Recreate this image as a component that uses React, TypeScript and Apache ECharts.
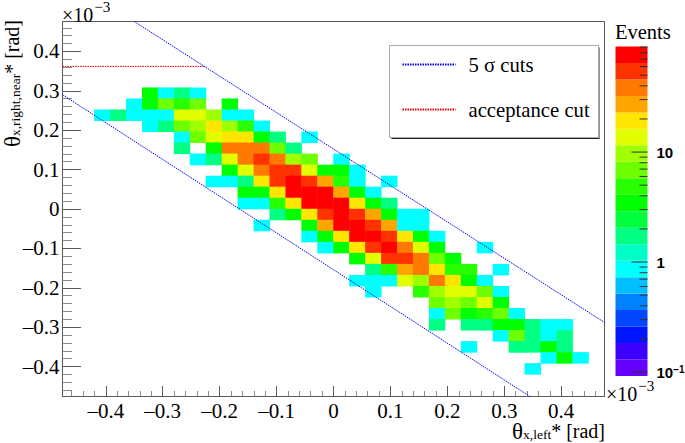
import React, { useEffect, useRef } from "react";
import * as echarts from "echarts";

const SERIF = "'Liberation Serif','Times New Roman',serif";
const SANS = "'Liberation Sans',Arial,sans-serif";

// Histogram binning: 34 x 34 bins of 0.028 (x 10^-3 rad)
const binEdgesMin = -0.476;
const binEdgesMax = 0.476;
const binCount = 34;
const binLabels = Array.from({ length: binCount }, (_, i) => String(i));

// Sparse rows of the histogram, from the top: the row number, the first filled bin, the counts
const rowIndex = [6, 7, 8, 9, 10, 11, 12, 13, 14, 15, 16, 17, 18, 19, 20, 21, 22, 23, 24, 25, 26, 27, 28, 29, 30, 31];
const rowFirstBin = [5, 4, 2, 5, 7, 7, 8, 10, 9, 11, 11, 13, 12, 15, 16, 18, 19, 18, 19, 23, 23, 23, 27, 25, 30, 29];
const rowCounts = [
  [3, 1, 2, 1],
  [1, 3, 7, 5, 7, 0, 3],
  [1, 2, 1, 1, 1, 14, 14, 10, 1, 1],
  [1, 2, 7, 10, 19, 10, 5, 1],
  [1, 7, 14, 19, 19, 3, 2, 0, 1],
  [2, 0, 3, 38, 38, 38, 7, 2],
  [1, 2, 14, 38, 54, 38, 10, 7, 0, 1],
  [3, 14, 38, 54, 54, 14, 3, 3, 1],
  [1, 1, 2, 19, 54, 75, 54, 27, 5, 1, 0, 1],
  [3, 3, 19, 75, 75, 75, 27, 3, 1],
  [1, 1, 5, 19, 75, 75, 75, 19, 3, 2],
  [2, 3, 19, 54, 75, 54, 27, 3, 1, 1],
  [1, 0, 0, 3, 27, 75, 75, 54, 27, 1, 1],
  [1, 3, 19, 75, 75, 54, 19, 3, 1],
  [1, 3, 19, 54, 75, 38, 14, 3, 0, 0, 1],
  [3, 14, 54, 54, 38, 7, 3],
  [2, 5, 27, 38, 19, 5, 5, 0, 1],
  [1, 1, 1, 14, 10, 38, 19, 3, 1],
  [1, 0, 0, 5, 10, 14, 14, 7, 1],
  [7, 10, 7, 14, 3],
  [1, 7, 3, 5, 7, 1],
  [2, 0, 2, 2, 3, 3, 2, 1, 1],
  [1, 7, 2, 1, 2],
  [1, 0, 0, 2, 2, 3, 2],
  [1, 3, 1],
  [1],
];

// Cut lines (x, y)
const upperCut = [[-0.35, 0.476], [0.476, -0.288]];
const lowerCut = [[-0.476, 0.29], [0.345, -0.476]];
const acceptanceCut = [[-0.476, 0.362], [-0.226, 0.362]];

// Ticks
const majorTicks = [-0.4, -0.3, -0.2, -0.1, 0, 0.1, 0.2, 0.3, 0.4];
const minorTicks = [
  -0.46, -0.44, -0.42, -0.38, -0.36, -0.34, -0.32, -0.28, -0.26, -0.24, -0.22, -0.18, -0.16, -0.14, -0.12,
  -0.08, -0.06, -0.04, -0.02, 0.02, 0.04, 0.06, 0.08, 0.12, 0.14, 0.16, 0.18, 0.22, 0.24, 0.26, 0.28,
  0.32, 0.34, 0.36, 0.38, 0.42, 0.44, 0.46,
];

// Colour scale: band edges (21) and colours (20, bottom to top)
const levelEdges = [
  0.092, 0.1299, 0.1835, 0.2591, 0.3658, 0.5164, 0.7291, 1.029, 1.454, 2.052, 2.897, 4.091, 5.775, 8.155, 11.51,
  16.26, 22.95, 32.41, 45.75, 64.6, 91.2,
];
const levelColors = [
  "#6400ff", "#3c00ff", "#0014ff", "#0046ff", "#0082ff", "#00beff", "#00ffff", "#00ffc8", "#00ff82", "#00ff3c",
  "#00ff00", "#28ff00", "#6eff00", "#a0ff00", "#e1ff00", "#ffe600", "#ffa500", "#ff7800", "#ff3200", "#ff0000",
];
const scaleDecades = [0.1, 1, 10];
const scaleMinorTicks = [0.2, 0.3, 0.4, 0.5, 0.6, 0.7, 0.8, 0.9, 2, 3, 4, 5, 6, 7, 8, 9, 20, 30, 40, 50, 60, 70, 80, 90];

const AXIS_COLOR = "#5a5a5a";

function labelText(v: number) {
  if (Math.abs(v) < 1e-9) return "0";
  return (v < 0 ? "\u2013" : "") + String(Math.abs(v));
}

function tickLine(api: any, value: number, length: number) {
  const p = api.coord([1, value]);
  return {
    type: "line",
    shape: { x1: p[0] - length, y1: p[1], x2: p[0], y2: p[1] },
    style: { stroke: "#333", lineWidth: 1 },
  };
}

export default function App() {
  const ref = useRef<HTMLDivElement>(null);
  useEffect(() => {
    document.body.style.margin = "0";
    const chart = echarts.init(ref.current!, null, { renderer: "svg" });
    const cells: number[][] = [];
    rowCounts.forEach((row, r) => {
      row.forEach((count, k) => {
        if (count > 0) cells.push([rowFirstBin[r] + k, binCount - 1 - rowIndex[r], count]);
      });
    });
    const baseAxis = { type: "value", min: binEdgesMin, max: binEdgesMax, gridIndex: 0, splitLine: { show: false } };
    const textRich = {
      h: { fontFamily: SERIF, fontSize: 23, color: "#000", lineHeight: 20, verticalAlign: "middle" },
      t: { fontFamily: SERIF, fontSize: 20, color: "#000", lineHeight: 20, verticalAlign: "middle" },
      s: { fontFamily: SERIF, fontSize: 13.5, color: "#000", lineHeight: 6, verticalAlign: "bottom" },
    };
    const powerRich = {
      t: { fontFamily: SERIF, fontSize: 20, color: "#000", lineHeight: 26, verticalAlign: "bottom", padding: [0, 1, 0, 0] },
      e: { fontFamily: SERIF, fontSize: 15, color: "#000", lineHeight: 15, verticalAlign: "top" },
    };
    chart.setOption({
      animation: false,
      backgroundColor: "#fff",
      grid: [
        { left: 62.5, top: 21.5, width: 542, height: 375, show: true, borderColor: AXIS_COLOR, borderWidth: 1, backgroundColor: "transparent", outerBoundsMode: "none" },
        { left: 615.5, top: 46.5, width: 32, height: 329.5, show: false, outerBoundsMode: "none" },
      ],
      xAxis: [
        {
          ...baseAxis,
          position: "bottom",
          axisLine: { show: true, onZero: false, lineStyle: { color: AXIS_COLOR } },
          axisTick: { show: true, inside: true, length: 10.5, customValues: majorTicks, lineStyle: { color: AXIS_COLOR } },
          axisLabel: {
            show: true,
            margin: 6,
            customValues: majorTicks,
            formatter: labelText,
            fontFamily: SERIF,
            fontSize: 21,
            lineHeight: 16,
            color: "#000",
          },
        },
        {
          ...baseAxis,
          position: "bottom",
          axisLine: { show: false, onZero: false },
          axisLabel: { show: false },
          axisTick: { show: true, inside: true, length: 5.5, customValues: minorTicks, lineStyle: { color: "#8a8a8a" } },
        },
        { type: "category", gridIndex: 0, data: binLabels, show: false, boundaryGap: true },
        { type: "value", gridIndex: 1, min: 0, max: 1, show: false },
      ],
      yAxis: [
        {
          ...baseAxis,
          position: "left",
          axisLine: { show: true, onZero: false, lineStyle: { color: AXIS_COLOR } },
          axisTick: { show: true, inside: true, length: 18.5, customValues: majorTicks, lineStyle: { color: AXIS_COLOR } },
          axisLabel: {
            show: true,
            margin: 3,
            customValues: majorTicks,
            formatter: labelText,
            fontFamily: SERIF,
            fontSize: 21,
            color: "#000",
          },
        },
        {
          ...baseAxis,
          position: "left",
          axisLine: { show: false, onZero: false },
          axisLabel: { show: false },
          axisTick: { show: true, inside: true, length: 9.5, customValues: minorTicks, lineStyle: { color: "#8a8a8a" } },
        },
        { type: "category", gridIndex: 0, data: binLabels, show: false, boundaryGap: true },
        {
          type: "log",
          gridIndex: 1,
          min: levelEdges[0],
          max: levelEdges[levelEdges.length - 1],
          position: "right",
          splitLine: { show: false },
          axisLine: { show: false },
          axisTick: { show: false },
          axisLabel: {
            show: true,
            margin: 9,
            customValues: scaleDecades,
            formatter: (v: number) => (v < 0.5 ? "{c|10}{e|\u22121}" : "{b|" + Math.round(v) + "}"),
            rich: {
              b: { fontFamily: SANS, fontWeight: "bold", fontSize: 15, color: "#000", lineHeight: 16 },
              c: { fontFamily: SANS, fontWeight: "bold", fontSize: 15, color: "#000", lineHeight: 16, verticalAlign: "bottom" },
              e: { fontFamily: SANS, fontWeight: "bold", fontSize: 10, color: "#000", lineHeight: 12, verticalAlign: "top", padding: [0, 0, 10, 0] },
            },
          },
        },
      ],
      visualMap: {
        show: false,
        type: "piecewise",
        seriesIndex: 0,
        dimension: 2,
        pieces: levelColors.map((color, i) => ({ gte: levelEdges[i], lt: levelEdges[i + 1], color })),
      },
      legend: {
        left: 389.5,
        top: 46,
        orient: "vertical",
        data: ["5 \u03c3 cuts", "acceptance cut"],
        padding: [8, 6, 17.5, 12],
        itemWidth: 53,
        itemHeight: 21,
        itemGap: 24,
        selectedMode: false,
        itemStyle: { color: "transparent", borderWidth: 0, opacity: 0 },
        textStyle: { fontFamily: SERIF, fontSize: 20.7, lineHeight: 17, color: "#000", padding: [0, 0, 4, 8] },
      },
      series: [
        {
          type: "heatmap",
          xAxisIndex: 2,
          yAxisIndex: 2,
          data: cells,
          itemStyle: { borderWidth: 0 },
          emphasis: { disabled: true },
        },
        {
          type: "line",
          name: "5 \u03c3 cuts",
          xAxisIndex: 0,
          yAxisIndex: 0,
          data: upperCut,
          symbol: "none",
          lineStyle: { color: "#0000ff", width: 1, type: [1.5, 1] },
          z: 5,
        },
        {
          type: "line",
          name: "5 \u03c3 cuts",
          xAxisIndex: 0,
          yAxisIndex: 0,
          data: lowerCut,
          symbol: "none",
          lineStyle: { color: "#0000ff", width: 1, type: [1.5, 1] },
          z: 5,
        },
        {
          type: "line",
          name: "acceptance cut",
          xAxisIndex: 0,
          yAxisIndex: 0,
          data: acceptanceCut,
          symbol: "none",
          lineStyle: { color: "#ff0000", width: 1, type: [1.5, 1] },
          z: 5,
        },
        {
          type: "custom",
          xAxisIndex: 3,
          yAxisIndex: 3,
          coordinateSystem: "cartesian2d",
          data: levelColors.map((_, i) => [0, levelEdges[i], levelEdges[i + 1]]),
          renderItem: (params: any, api: any) => {
            const a = api.coord([0, api.value(1)]);
            const b = api.coord([1, api.value(2)]);
            return {
              type: "rect",
              shape: { x: a[0], y: b[1], width: b[0] - a[0], height: a[1] - b[1] },
              style: { fill: levelColors[params.dataIndex] },
            };
          },
          silent: true,
          z: 2,
        },
        {
          type: "custom",
          xAxisIndex: 3,
          yAxisIndex: 3,
          coordinateSystem: "cartesian2d",
          data: scaleMinorTicks.map((v) => [1, v]),
          renderItem: (_: any, api: any) => tickLine(api, api.value(1), 8),
          silent: true,
          z: 3,
        },
        {
          type: "custom",
          xAxisIndex: 3,
          yAxisIndex: 3,
          coordinateSystem: "cartesian2d",
          data: scaleDecades.map((v) => [1, v]),
          renderItem: (_: any, api: any) => tickLine(api, api.value(1), 16),
          silent: true,
          z: 3,
        },
      ],
      graphic: [
        { type: "rect", z: 3, shape: { x: 391.5, y: 47.5, width: 208, height: 91.5 }, style: { fill: "#222" } },
        { type: "rect", z: 3, shape: { x: 389.5, y: 45.5, width: 209, height: 92 }, style: { fill: "#fff", stroke: "#aaa", lineWidth: 1 } },
        {
          type: "text",
          x: 62,
          y: -1,
          style: { text: "{t|\u00d710}{e|\u22123}", rich: powerRich },
        },
        {
          type: "text",
          x: 606,
          y: 378,
          style: { text: "{t|\u00d710}{e|\u22123}", rich: powerRich },
        },
        {
          type: "text",
          x: 615,
          y: 21,
          style: { text: "Events", fontFamily: SERIF, fontSize: 20.5, fill: "#000" },
        },
        {
          type: "text",
          x: 605,
          y: 431,
          style: { text: "{h|\u03b8}{s|x,left}{t|* [rad]}", rich: textRich, textAlign: "right", textVerticalAlign: "middle" },
        },
        {
          type: "text",
          x: 12,
          y: 20,
          rotation: Math.PI / 2,
          style: { text: "{h|\u03b8}{s|x,right,near}{t|* [rad]}", rich: textRich, textAlign: "right", textVerticalAlign: "middle" },
        },
      ],
    });
    return () => chart.dispose();
  }, []);
  return <div ref={ref} style={{ width: 685, height: 443 }} />;
}
